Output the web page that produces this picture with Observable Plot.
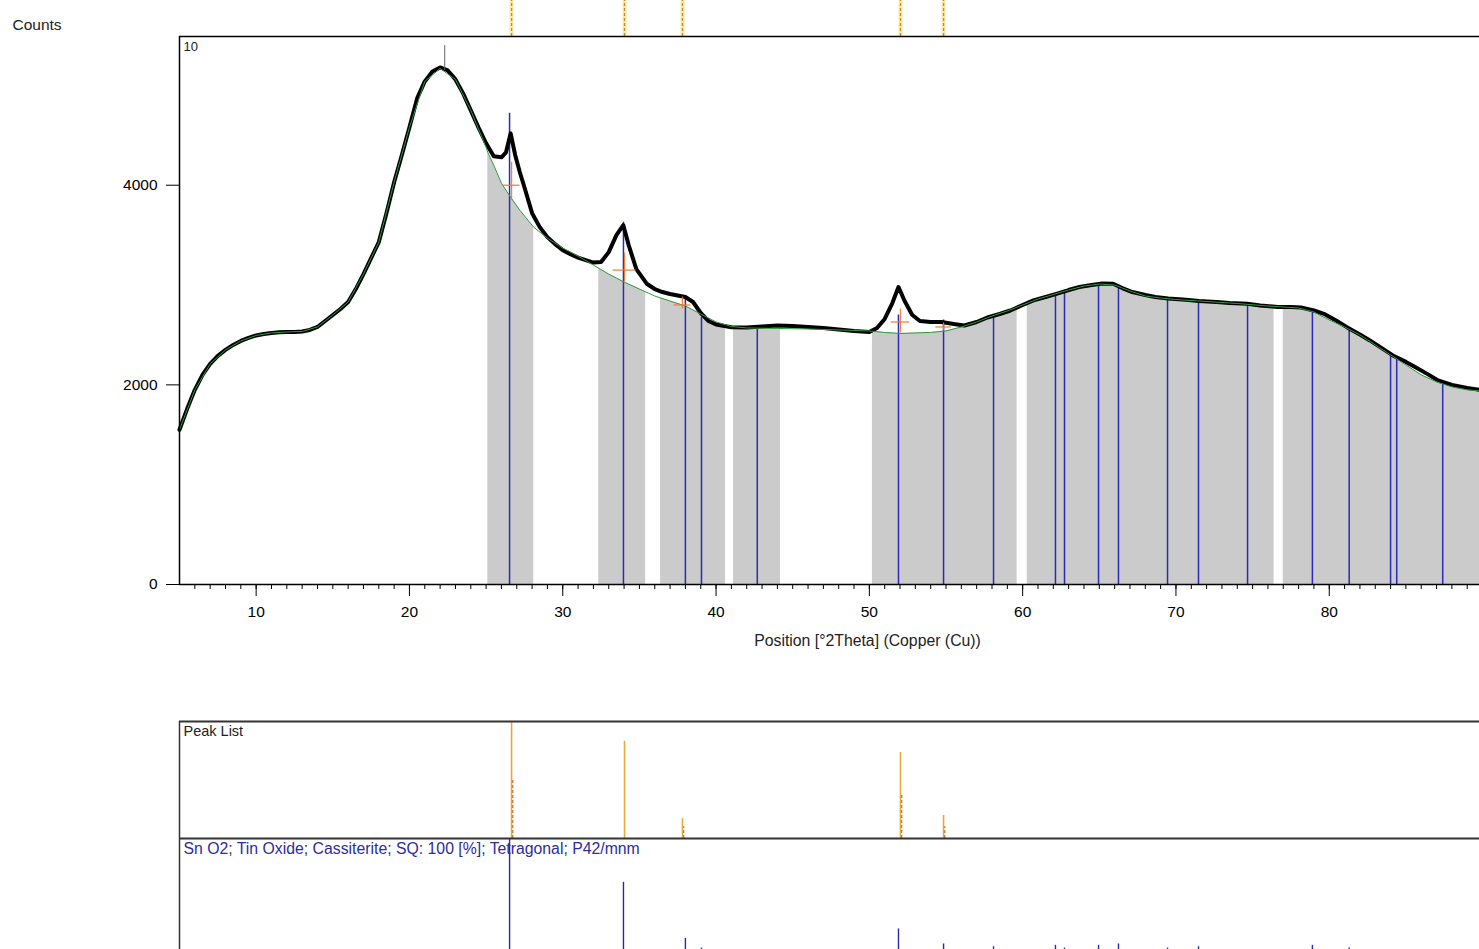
<!DOCTYPE html>
<html><head><meta charset="utf-8">
<script src="https://cdn.jsdelivr.net/npm/d3@7"></script>
<script src="https://cdn.jsdelivr.net/npm/@observablehq/plot@0.6"></script>
<style>
html,body{margin:0;padding:0;background:#fff;overflow:hidden}
#wrap{position:relative;width:1479px;height:949px;overflow:hidden;background:#fff}
#wrap > svg{position:absolute;left:0;margin:0}
</style></head><body><div id="wrap"></div><script>
// ---------- data ----------
const twoTheta = [5.0,5.5,6.0,6.5,7.0,7.5,8.0,8.5,9.0,9.5,10.0,10.5,11.0,11.5,12.0,12.5,13.0,13.5,14.0,14.5,15.0,15.5,16.0,16.5,17.0,17.5,18.0,18.5,19.0,19.5,20.0,20.5,21.0,21.5,22.0,22.5,23.0,23.5,24.0,24.5,25.0,25.5,26.0,26.3,26.6,26.9,27.2,27.5,28.0,28.5,29.0,29.5,30.0,30.5,31.0,31.5,32.0,32.5,33.0,33.5,33.95,34.3,34.8,35.5,36.0,36.5,37.0,37.5,38.0,38.5,39.0,39.5,40.0,41.0,42.0,43.0,44.0,45.0,46.0,47.0,48.0,49.0,50.0,50.5,51.0,51.5,51.9,52.3,52.8,53.3,54.0,54.7,55.5,56.2,57.0,57.7,58.5,59.2,60.0,60.7,61.5,62.2,63.0,63.7,64.5,65.2,65.9,66.5,67.15,68.0,68.65,69.5,70.65,71.5,72.65,73.5,74.65,75.5,76.65,77.5,78.15,79.0,79.65,80.5,81.15,82.0,82.65,83.5,84.15,85.0,85.6,86.5,87.1,88.0,89.0,89.8];
const counts   = [1550,1760,1950,2100,2210,2290,2350,2400,2440,2470,2495,2510,2520,2528,2530,2530,2535,2550,2580,2640,2700,2760,2830,2960,3110,3270,3430,3720,4030,4300,4580,4870,5040,5140,5180,5150,5060,4920,4750,4580,4420,4290,4280,4330,4520,4300,4130,3980,3720,3580,3480,3410,3350,3310,3275,3250,3225,3230,3330,3500,3600,3400,3160,3010,2960,2930,2910,2895,2880,2830,2720,2640,2605,2578,2575,2585,2595,2590,2580,2570,2555,2540,2530,2570,2660,2820,2980,2840,2700,2640,2630,2630,2610,2595,2630,2675,2710,2745,2800,2846,2880,2912,2950,2980,3000,3015,3013,2970,2930,2900,2880,2865,2852,2840,2829,2820,2812,2795,2780,2780,2775,2745,2712,2640,2578,2505,2445,2360,2295,2230,2178,2100,2044,2000,1970,1950];

const bgTheta  = [5,6,7,8,9,10,11,12,13,14,15,16,17,18,19,20,21,22,23,24,25,25.11,25.5,26,26.6,27.2,28.1,29,30,31,32,33,34,35,36,37,38,39,40,41,42,44,46,48,50,51,52,53,54,55,56,57,58,59,60,61,62,63,64,65,66,67,68,69,70,72,74,76,78,79,80,81,82,83,84,85,86,87,88,89,89.8];
const bgCounts = [1550,1950,2210,2350,2440,2495,2520,2530,2535,2580,2700,2830,3110,3430,4030,4580,5040,5170,5060,4750,4380,4330,4200,4020,3880,3750,3580,3470,3370,3290,3200,3110,3030,2960,2890,2840,2790,2710,2630,2585,2570,2565,2560,2550,2540,2525,2515,2520,2525,2540,2580,2630,2690,2740,2800,2860,2905,2950,2990,3010,3000,2940,2890,2870,2855,2835,2815,2790,2770,2730,2650,2580,2500,2400,2300,2200,2100,2030,1980,1950,1940];

const bandStart = [25.11,32.35,36.38,41.14,50.2,60.3,77.0];
const bandEnd   = [28.11,35.41,40.62,44.2,59.64,76.4,89.8];

// SnO2 reference pattern (blue sticks)
const refPos = [26.53,33.96,38.0,39.05,42.69,51.9,54.84,58.1,62.14,62.73,64.95,66.25,69.45,71.47,74.67,78.9,81.3,84.0,84.4,87.4];
const refTop = [4720,3630,2875,2675,2580,2700,2650,2700,2900,2920,3010,3000,2860,2840,2810,2750,2560,2300,2270,2030];
const refInt = [100,68,27,20,19,34,23,21,22,20,22,23,20,21,19,22,20,19,19,19];

// Peak list (orange)
const peakPos     = [26.66,34.03,37.81,52.03,54.84];
const peakRel     = [100,83,17,73.5,19.7];
const peakRelDash = [51,0,10,37,10];
const crossY      = [4000,3150,2800,2630,2580];
const crossHalf   = [0.55,0.75,0.55,0.6,0.5];
const crossLo     = [3850,3030,2760,2520,2540];
const crossHi     = [4230,3320,2880,2760,2620];

const xDomain = [5, 89.8];
const yMax = 5490;
const xMajorTicks = [10,20,30,40,50,60,70,80];
const xMinorTicks = d3.range(6, 90, 1);
const yTicks = [0,2000,4000];

const yLabel = "Counts";
const xLabel = "Position [°2Theta] (Copper (Cu))";
const cornerLabel = "10";
const peakListLabel = "Peak List";
const phaseLabel = "Sn O2; Tin Oxide; Cassiterite; SQ: 100 [%]; Tetragonal; P42/mnm";

// ---------- build tables ----------
const data = twoTheta.map((t,i)=>({t, c: counts[i]}));
const bg = bgTheta.map((t,i)=>({t, c: bgCounts[i]}));
const gaps = [{x1: xDomain[0], x2: bandStart[0]}];
for (let i=0;i<bandStart.length-1;i++) gaps.push({x1: bandEnd[i], x2: bandStart[i+1]});
const refs = refPos.map((p,i)=>({p, top: refTop[i], inten: refInt[i]}));
const peaks = peakPos.map((p,i)=>({p, rel: peakRel[i], dash: peakRelDash[i], cy: crossY[i], h: crossHalf[i], lo: crossLo[i], hi: crossHi[i]}));

const W = 1479;
const FONT = "'Liberation Sans', Arial, sans-serif";
const wrap = document.getElementById("wrap");
const orange = "#f0782a";

const main = Plot.plot({
  width: W, height: 660,
  marginLeft: 179, marginRight: 0, marginTop: 36, marginBottom: 76,
  x: {domain: xDomain},
  y: {domain: [0, yMax]},
  style: {fontFamily: FONT, fontSize: "15.5px", color: "#000", background: "transparent", overflow: "visible"},
  marks: [
    Plot.areaY(bg, {x: "t", y: "c", fill: "#cbcbcb"}),
    Plot.rect(gaps, {x1: "x1", x2: "x2", y1: 0, y2: yMax, fill: "white"}),
    Plot.ruleX(refs, {x: "p", y1: 0, y2: "top", stroke: "#2a2ab4", strokeWidth: 1.5}),
    Plot.line(data, {x: "t", y: "c", stroke: "#000", strokeWidth: 4, strokeLinejoin: "round"}),
    Plot.line(bg, {x: "t", y: "c", stroke: "#2e9a3e", strokeWidth: 1}),
    Plot.ruleY(peaks, {x1: d => d.p - d.h, x2: d => d.p + d.h, y: "cy", stroke: orange, strokeWidth: 1.3, strokeOpacity: 0.9}),
    Plot.ruleX(peaks, {x: "p", y1: "lo", y2: "hi", stroke: orange, strokeWidth: 1.3, strokeOpacity: 0.9}),
    Plot.ruleX([22.3], {y1: 5150, y2: 5400, stroke: "#666", strokeWidth: 1}),
    // peak markers above the frame
    Plot.ruleX(peaks, {x: "p", y1: yMax, y2: yMax + 370, stroke: "#fbe9a8", strokeWidth: 4}),
    Plot.ruleX(peaks, {x: "p", y1: yMax, y2: yMax + 370, stroke: "#c98a22", strokeWidth: 1.3, strokeDasharray: "3,2"}),
    // frame
    Plot.ruleY([yMax], {stroke: "#000", strokeWidth: 1.5}),
    Plot.ruleX([xDomain[0]], {y1: 0, y2: yMax, stroke: "#000", strokeWidth: 1.5}),
    Plot.ruleY([0], {stroke: "#000", strokeWidth: 1.5}),
    Plot.axisX({ticks: xMinorTicks, tickSize: 5, tickFormat: () => "", label: null}),
    Plot.axisX({ticks: xMajorTicks, tickSize: 12, tickPadding: 9, label: null, fontSize: 15.5, tickFormat: d3.format("d")}),
    Plot.axisY({ticks: yTicks, tickSize: 13, tickPadding: 9, label: null, fontSize: 15.5, tickFormat: d3.format("d")}),
    Plot.text([yLabel], {frameAnchor: "top-left", dx: -167, dy: -18, textAnchor: "start", fontSize: 15.5, fill: "#222"}),
    Plot.text([cornerLabel], {frameAnchor: "top-left", dx: 4, dy: 5, textAnchor: "start", fontSize: 13, fill: "#222"}),
    Plot.text([xLabel], {frameAnchor: "bottom", dx: 38, dy: 61, fontSize: 15.8, fill: "#222"})
  ]
});
main.style.top = "0px";
wrap.appendChild(main);

const panel2 = Plot.plot({
  width: W, height: 123,
  marginLeft: 179, marginRight: 0, marginTop: 3, marginBottom: 3,
  x: {domain: xDomain, axis: null},
  y: {domain: [0, 100], axis: null},
  style: {fontFamily: FONT, fontSize: "14px", color: "#000", background: "transparent", overflow: "visible"},
  marks: [
    Plot.ruleX(peaks, {x: "p", y1: 0, y2: "rel", stroke: "#e6a93a", strokeWidth: 1.6}),
    Plot.ruleX(peaks.filter(d => d.dash > 0), {x: d => d.p + 0.08, y1: 0, y2: "dash", stroke: "#c8701e", strokeWidth: 1.2, strokeDasharray: "3,2"}),
    Plot.ruleY([100], {stroke: "#333", strokeWidth: 2}),
    Plot.ruleY([0], {stroke: "#333", strokeWidth: 2}),
    Plot.ruleX([xDomain[0]], {y1: 0, y2: 100, stroke: "#333", strokeWidth: 1.5}),
    Plot.text([peakListLabel], {frameAnchor: "top-left", dx: 4, dy: 4, textAnchor: "start", fontSize: 14.5, fill: "#222"})
  ]
});
panel2.style.top = "718px";
wrap.appendChild(panel2);

const panel3 = Plot.plot({
  width: W, height: 140,
  marginLeft: 179, marginRight: 0, marginTop: 3, marginBottom: 0,
  x: {domain: xDomain, axis: null},
  y: {domain: [0, 100], axis: null},
  style: {fontFamily: FONT, fontSize: "15px", color: "#000", background: "transparent", overflow: "visible"},
  marks: [
    Plot.ruleX(refs, {x: "p", y1: 0, y2: "inten", stroke: "#2a2a9a", strokeWidth: 1.4}),
    Plot.ruleX([xDomain[0]], {y1: 0, y2: 100, stroke: "#333", strokeWidth: 1.5}),
    Plot.text([phaseLabel], {frameAnchor: "top-left", dx: 4, dy: 4, textAnchor: "start", fontSize: 15.8, fill: "#2d2d9b"})
  ]
});
panel3.style.top = "835px";
wrap.appendChild(panel3);
</script></body></html>
